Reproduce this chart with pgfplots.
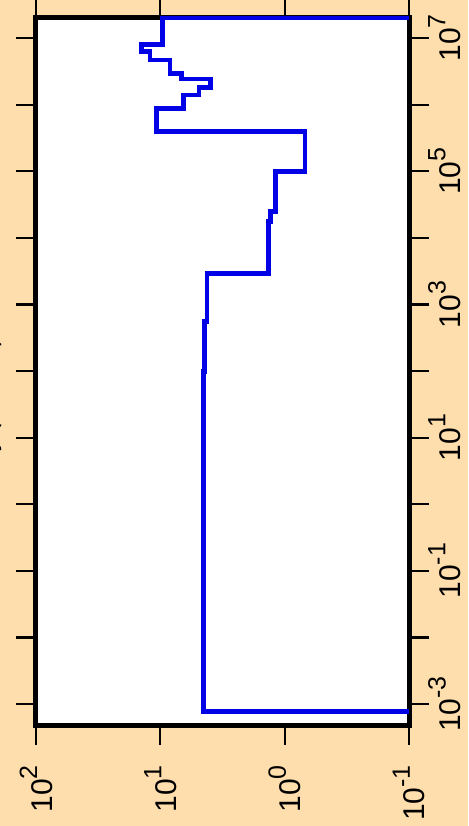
\documentclass[border=0pt]{standalone}
\usepackage{fontspec}
\setmainfont{Liberation Sans}
\usepackage{pgfplots}
\pgfplotsset{compat=1.18}
\definecolor{bgc}{RGB}{255,222,173}
\definecolor{lineblue}{RGB}{0,0,230}
\newcommand{\tl}[1]{10\raisebox{15pt}{\fontsize{25}{25}\selectfont #1}}
\begin{document}
\begin{tikzpicture}
\clip (0pt,0pt) rectangle (468pt,826pt);
\fill[bgc] (0pt,0pt) rectangle (468pt,826pt);
\begin{axis}[
  at={(36pt,101pt)}, anchor=south west,
  scale only axis, width=373pt, height=707pt,
  xmode=log, ymode=log, x dir=reverse,
  xmin=0.1, xmax=100, ymin=4.84e-4, ymax=2e7,
  axis background/.style={fill=white},
  axis line style={line width=5pt, black},
  every tick/.style={black, line width=2.2pt},
  major tick length=20pt,
  minor tick length=0pt,
  tick align=outside,
  clip=false,
  xtick={0.1,1,10,100},
  xticklabels={\tl{-1},\tl{0},\tl{1},\tl{2}},
  xtick pos=both, xticklabel pos=lower,
  ytick={1e-3,1e-2,1e-1,1,10,100,1e3,1e4,1e5,1e6,1e7},
  yticklabels={\tl{-3},,\tl{-1},,\tl{1},,\tl{3},,\tl{5},,\tl{7}},
  ytick pos=both, yticklabel pos=right,
  xticklabel shift=20pt, yticklabel shift=-1pt,
  xticklabel style={rotate=90, anchor=east, inner sep=0pt, font=\fontsize{30}{30}\selectfont},
  yticklabel style={rotate=90, anchor=north, inner sep=0pt, font=\fontsize{30}{30}\selectfont},
  ylabel={Resistivity (ohm-m)},
  every axis y label/.style={at={(axis description cs:-0.107,0.396)}, rotate=90, anchor=base, font=\fontsize{25}{25}\selectfont},
]
\addplot[lineblue, line width=4.6pt, line join=miter, line cap=butt] coordinates {
(0.1,7.74e-4) (4.5,7.74e-4) (4.5,98) (4.4,98) (4.4,552) (4.2,552) (4.2,2940)
(1.35,2940) (1.35,17500) (1.30,17500) (1.30,24700) (1.18,24700) (1.18,98400)
(0.686,98400) (0.686,3.93e5) (10.7,3.93e5) (10.7,8.81e5) (6.53,8.81e5) (6.53,1.40e6)
(4.89,1.40e6) (4.89,1.82e6) (3.94,1.82e6) (3.94,2.42e6) (6.73,2.42e6) (6.73,2.95e6)
(8.36,2.95e6) (8.36,4.68e6) (12.1,4.68e6) (12.1,6.23e6) (14.1,6.23e6) (14.1,8.04e6)
(9.64,8.04e6) (9.64,2e7) (0.1,2e7)
};
\end{axis}
\end{tikzpicture}
\end{document}
